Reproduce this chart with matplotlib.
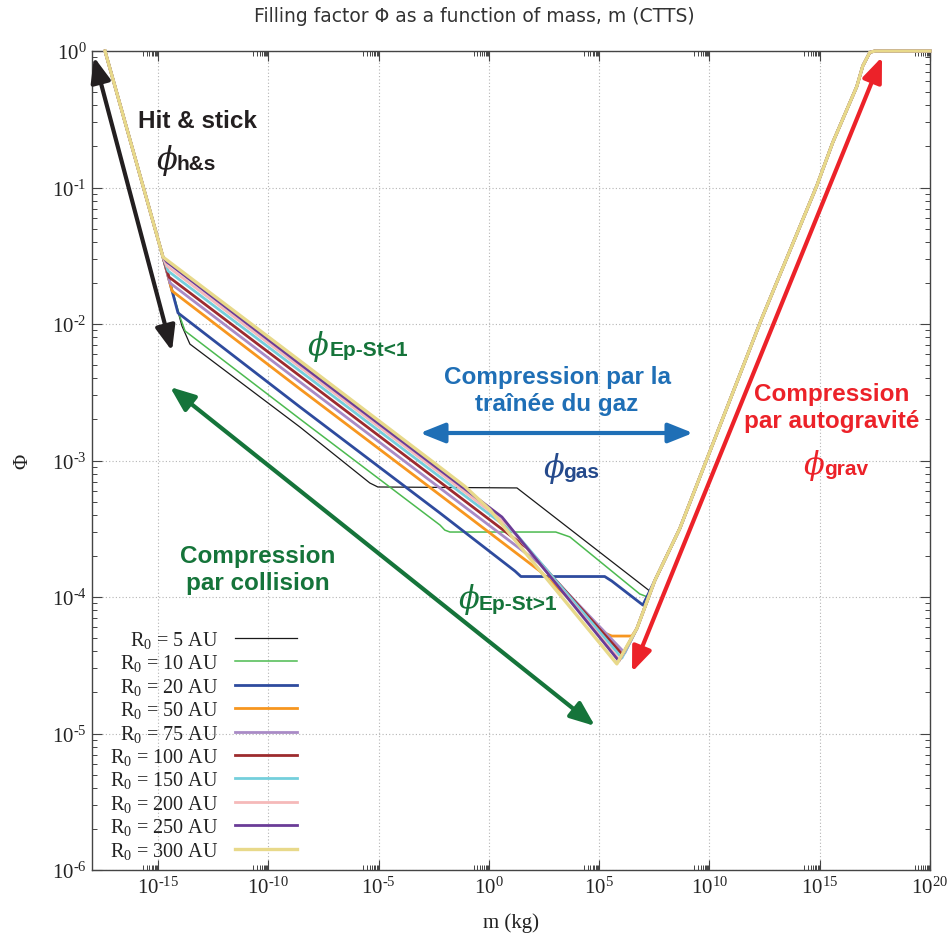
import numpy as np
import matplotlib
matplotlib.use('Agg')
import matplotlib.pyplot as plt
from matplotlib.ticker import FixedLocator, FuncFormatter, NullFormatter

plt.rcParams['mathtext.fontset'] = 'custom'
plt.rcParams['mathtext.rm'] = 'Liberation Serif'
plt.rcParams['mathtext.it'] = 'Liberation Serif:italic'
plt.rcParams['mathtext.bf'] = 'Liberation Serif:bold'
plt.rcParams['font.family'] = ['Liberation Serif', 'DejaVu Serif']
plt.rcParams['axes.unicode_minus'] = False

# ---------------- data (log10 of m [kg] and log10 of filling factor) ----------------
# common hit & stick branch
hs_logm = [-17.41, -14.78]
hs_logphi = [0.0, -1.51]

# common self-gravity branch
rise_logm = [6.71, 7.52, 8.65, 12.37, 14.86, 15.59, 16.68, 16.95, 17.27, 17.5, 20.0]
rise_logphi = [-4.23, -3.88, -3.50, -1.96, -0.99, -0.67, -0.26, -0.11, -0.01, 0.0, 0.0]

labels = ['R$_0$ = 5 AU', 'R$_0$ = 10 AU', 'R$_0$ = 20 AU', 'R$_0$ = 50 AU', 'R$_0$ = 75 AU',
          'R$_0$ = 100 AU', 'R$_0$ = 150 AU', 'R$_0$ = 200 AU', 'R$_0$ = 250 AU', 'R$_0$ = 300 AU']

logm_5 = [-13.92, -13.56, -8.57, -5.40, -5.04, 1.27, 7.29]
logphi_5 = [-2.015, -2.147, -2.755, -3.165, -3.194, -3.201, -3.956]

logm_10 = [-14.01, -13.78, -8.57, -2.22, -2.00, -1.77, 3.03, 3.67, 6.84, 7.20]
logphi_10 = [-1.949, -2.051, -2.696, -3.473, -3.51, -3.524, -3.524, -3.560, -3.978, -4.000]

logm_20 = [-14.10, -8.57, -2.22, 1.18, 1.45, 5.25, 5.57, 6.98]
logphi_20 = [-1.919, -2.608, -3.385, -3.81, -3.85, -3.85, -3.883, -4.059]

logm_50 = [-14.37, -8.57, -2.22, 2.31, 4.94, 5.25, 5.57, 6.48]
logphi_50 = [-1.758, -2.476, -3.253, -3.810, -4.212, -4.264, -4.286, -4.286]

logm_75 = [-14.46, -8.57, -2.22, 2.26, 6.16]
logphi_75 = [-1.700, -2.425, -3.202, -3.751, -4.410]

logm_100 = [-14.51, -8.57, -2.22, 1.72, 6.07]
logphi_100 = [-1.656, -2.381, -3.158, -3.641, -4.425]

logm_150 = [-14.55, -8.57, -2.22, 1.27, 6.03]
logphi_150 = [-1.612, -2.344, -3.121, -3.546, -4.447]

logm_200 = [-14.60, -8.57, -2.22, 0.86, 5.93]
logphi_200 = [-1.575, -2.315, -3.092, -3.473, -4.462]

logm_250 = [-14.60, -8.57, -2.22, 0.59, 5.89]
logphi_250 = [-1.546, -2.293, -3.070, -3.414, -4.469]

logm_300 = [-8.57, -2.22, -1.09, 0.04, 5.80]
logphi_300 = [-2.27, -3.05, -3.19, -3.36, -4.49]

mids = [(logm_5, logphi_5), (logm_10, logphi_10), (logm_20, logphi_20), (logm_50, logphi_50),
        (logm_75, logphi_75), (logm_100, logphi_100), (logm_150, logphi_150),
        (logm_200, logphi_200), (logm_250, logphi_250), (logm_300, logphi_300)]

colors = ['#1a1a1a', '#4cba50', '#2e4b9e', '#f7961f', '#a98bc6', '#9d2b2e', '#74cfdc',
          '#f5b9b9', '#6a3c97', '#e8d98a']
widths = [0.9, 1.1, 2.0, 2.0, 2.0, 2.0, 2.0, 2.0, 2.0, 2.4]

# ---------------- figure ----------------
W, H = 949, 945
fig = plt.figure(figsize=(W / 100, H / 100), dpi=100)
ax = fig.add_axes([92 / W, 1 - 871 / H, (930 - 92) / W, (871 - 52) / H])
ax.set_xscale('log')
ax.set_yscale('log')
ax.set_xlim(1e-18, 1e20)
ax.set_ylim(1e-6, 1)

handles = []
for (lm, lp), c, w, lab in zip(mids, colors, widths, labels):
    last = lm[-1]
    rm = [v for v in rise_logm if v > last]
    rp = [p for v, p in zip(rise_logm, rise_logphi) if v > last]
    x = 10.0 ** np.array(hs_logm + list(lm) + rm)
    y = 10.0 ** np.array(hs_logphi + list(lp) + rp)
    h, = ax.plot(x, y, color=c, lw=w, label=lab, solid_joinstyle='round', clip_on=False, zorder=3)
    handles.append(h)


def pow_label(v, pos):
    e = int(round(np.log10(v)))
    if e < 0:
        return r'$10^{\text{-}%d}$' % (-e)
    return r'$10^{%d}$' % e


# ticks
xmaj = [10.0 ** k for k in range(-15, 21, 5)]
xmin = [j * 10.0 ** (k - 1) for k in range(-15, 21, 5) for j in range(2, 10)]
ax.xaxis.set_major_locator(FixedLocator(xmaj))
ax.xaxis.set_minor_locator(FixedLocator(xmin))
ymaj = [10.0 ** k for k in range(-6, 1)]
ymin = [j * 10.0 ** k for k in range(-6, 0) for j in range(2, 10)]
ax.yaxis.set_major_locator(FixedLocator(ymaj))
ax.yaxis.set_minor_locator(FixedLocator(ymin))
ax.xaxis.set_major_formatter(FuncFormatter(pow_label))
ax.yaxis.set_major_formatter(FuncFormatter(pow_label))
ax.xaxis.set_minor_formatter(NullFormatter())
ax.yaxis.set_minor_formatter(NullFormatter())
ax.tick_params(which='both', direction='in', top=True, right=True, color='#444444',
               labelsize=15, labelcolor='#222222')
ax.tick_params(which='major', length=7.2, width=0.8)
ax.tick_params(which='minor', length=3.3, width=0.7)
ax.tick_params(axis='x', pad=5)
ax.tick_params(axis='y', pad=4)
for s in ax.spines.values():
    s.set_color('#444444')
    s.set_linewidth(1.0)
ax.grid(True, which='major', color='#b5b5b5', lw=0.8, ls=(0, (1, 2)))

ax.set_xlabel('m (kg)', fontsize=15, color='#222222', labelpad=10)
ax.set_ylabel('Φ', fontsize=15, color='#222222', labelpad=14)
fig.text(0.5, 1 - 17 / H, 'Filling factor Φ as a function of mass, m (CTTS)', ha='center',
         va='center', fontsize=13.5, family='DejaVu Sans', color='#333333')

leg = ax.legend(handles=handles, loc='upper right', bbox_to_anchor=(297 / W, 1 - 630 / H),
                bbox_transform=fig.transFigure, frameon=False, markerfirst=False,
                fontsize=14.5, handlelength=3.1, handletextpad=0.8, labelspacing=0.12,
                borderpad=0, borderaxespad=0)
for t in leg.get_texts():
    t.set_color('#222222')


def F(x, y):
    return (x / W, 1 - y / H)


def arrow(p0, p1, color):
    ax.annotate('', xy=F(*p1), xytext=F(*p0), xycoords='figure fraction',
                textcoords='figure fraction',
                arrowprops=dict(arrowstyle='<|-|>,head_length=0.75,head_width=0.3', color=color,
                                lw=3.0, shrinkA=0, shrinkB=0, mutation_scale=20), zorder=5)


BLACK = '#231f20'
GREEN = '#15743a'
BLUE = '#1f6fb6'
NAVY = '#254a8c'
RED = '#ec2229'

arrow((172, 352), (94, 58), BLACK)
arrow((170, 388), (595, 727), GREEN)
arrow((420, 434), (693, 434), BLUE)
arrow((632, 673), (882, 58), RED)

bold = dict(family=['Liberation Sans', 'DejaVu Sans'], fontweight='bold', fontsize=17.5,
            ha='center', va='center', linespacing=1.2)
fig.text(*F(197, 121), 'Hit & stick', color=BLACK, **bold)
fig.text(*F(557, 391), 'Compression par la\ntraînée du gaz', color=BLUE, **bold)
fig.text(*F(832, 408), 'Compression\npar autogravité', color=RED, **bold)
fig.text(*F(258, 570), 'Compression\npar collision', color=GREEN, **bold)


def phi(xc, yc, sub, color, xs):
    fig.text(*F(xc, yc), 'ϕ', family='DejaVu Serif', style='italic', fontsize=22,
             ha='center', va='center', color=color)
    fig.text(*F(xs, yc + 4), sub, family=['Liberation Sans', 'DejaVu Sans'], fontweight='bold',
             fontsize=15, ha='left', va='center', color=color)


phi(167, 160, 'h&s', BLACK, 176)
phi(318, 347, 'Ep-St<1', GREEN, 330)
phi(554, 469, 'gas', NAVY, 563)
phi(814, 466, 'grav', RED, 824)
phi(469, 600, 'Ep-St>1', GREEN, 479)

fig.savefig('out.png', dpi=100)
